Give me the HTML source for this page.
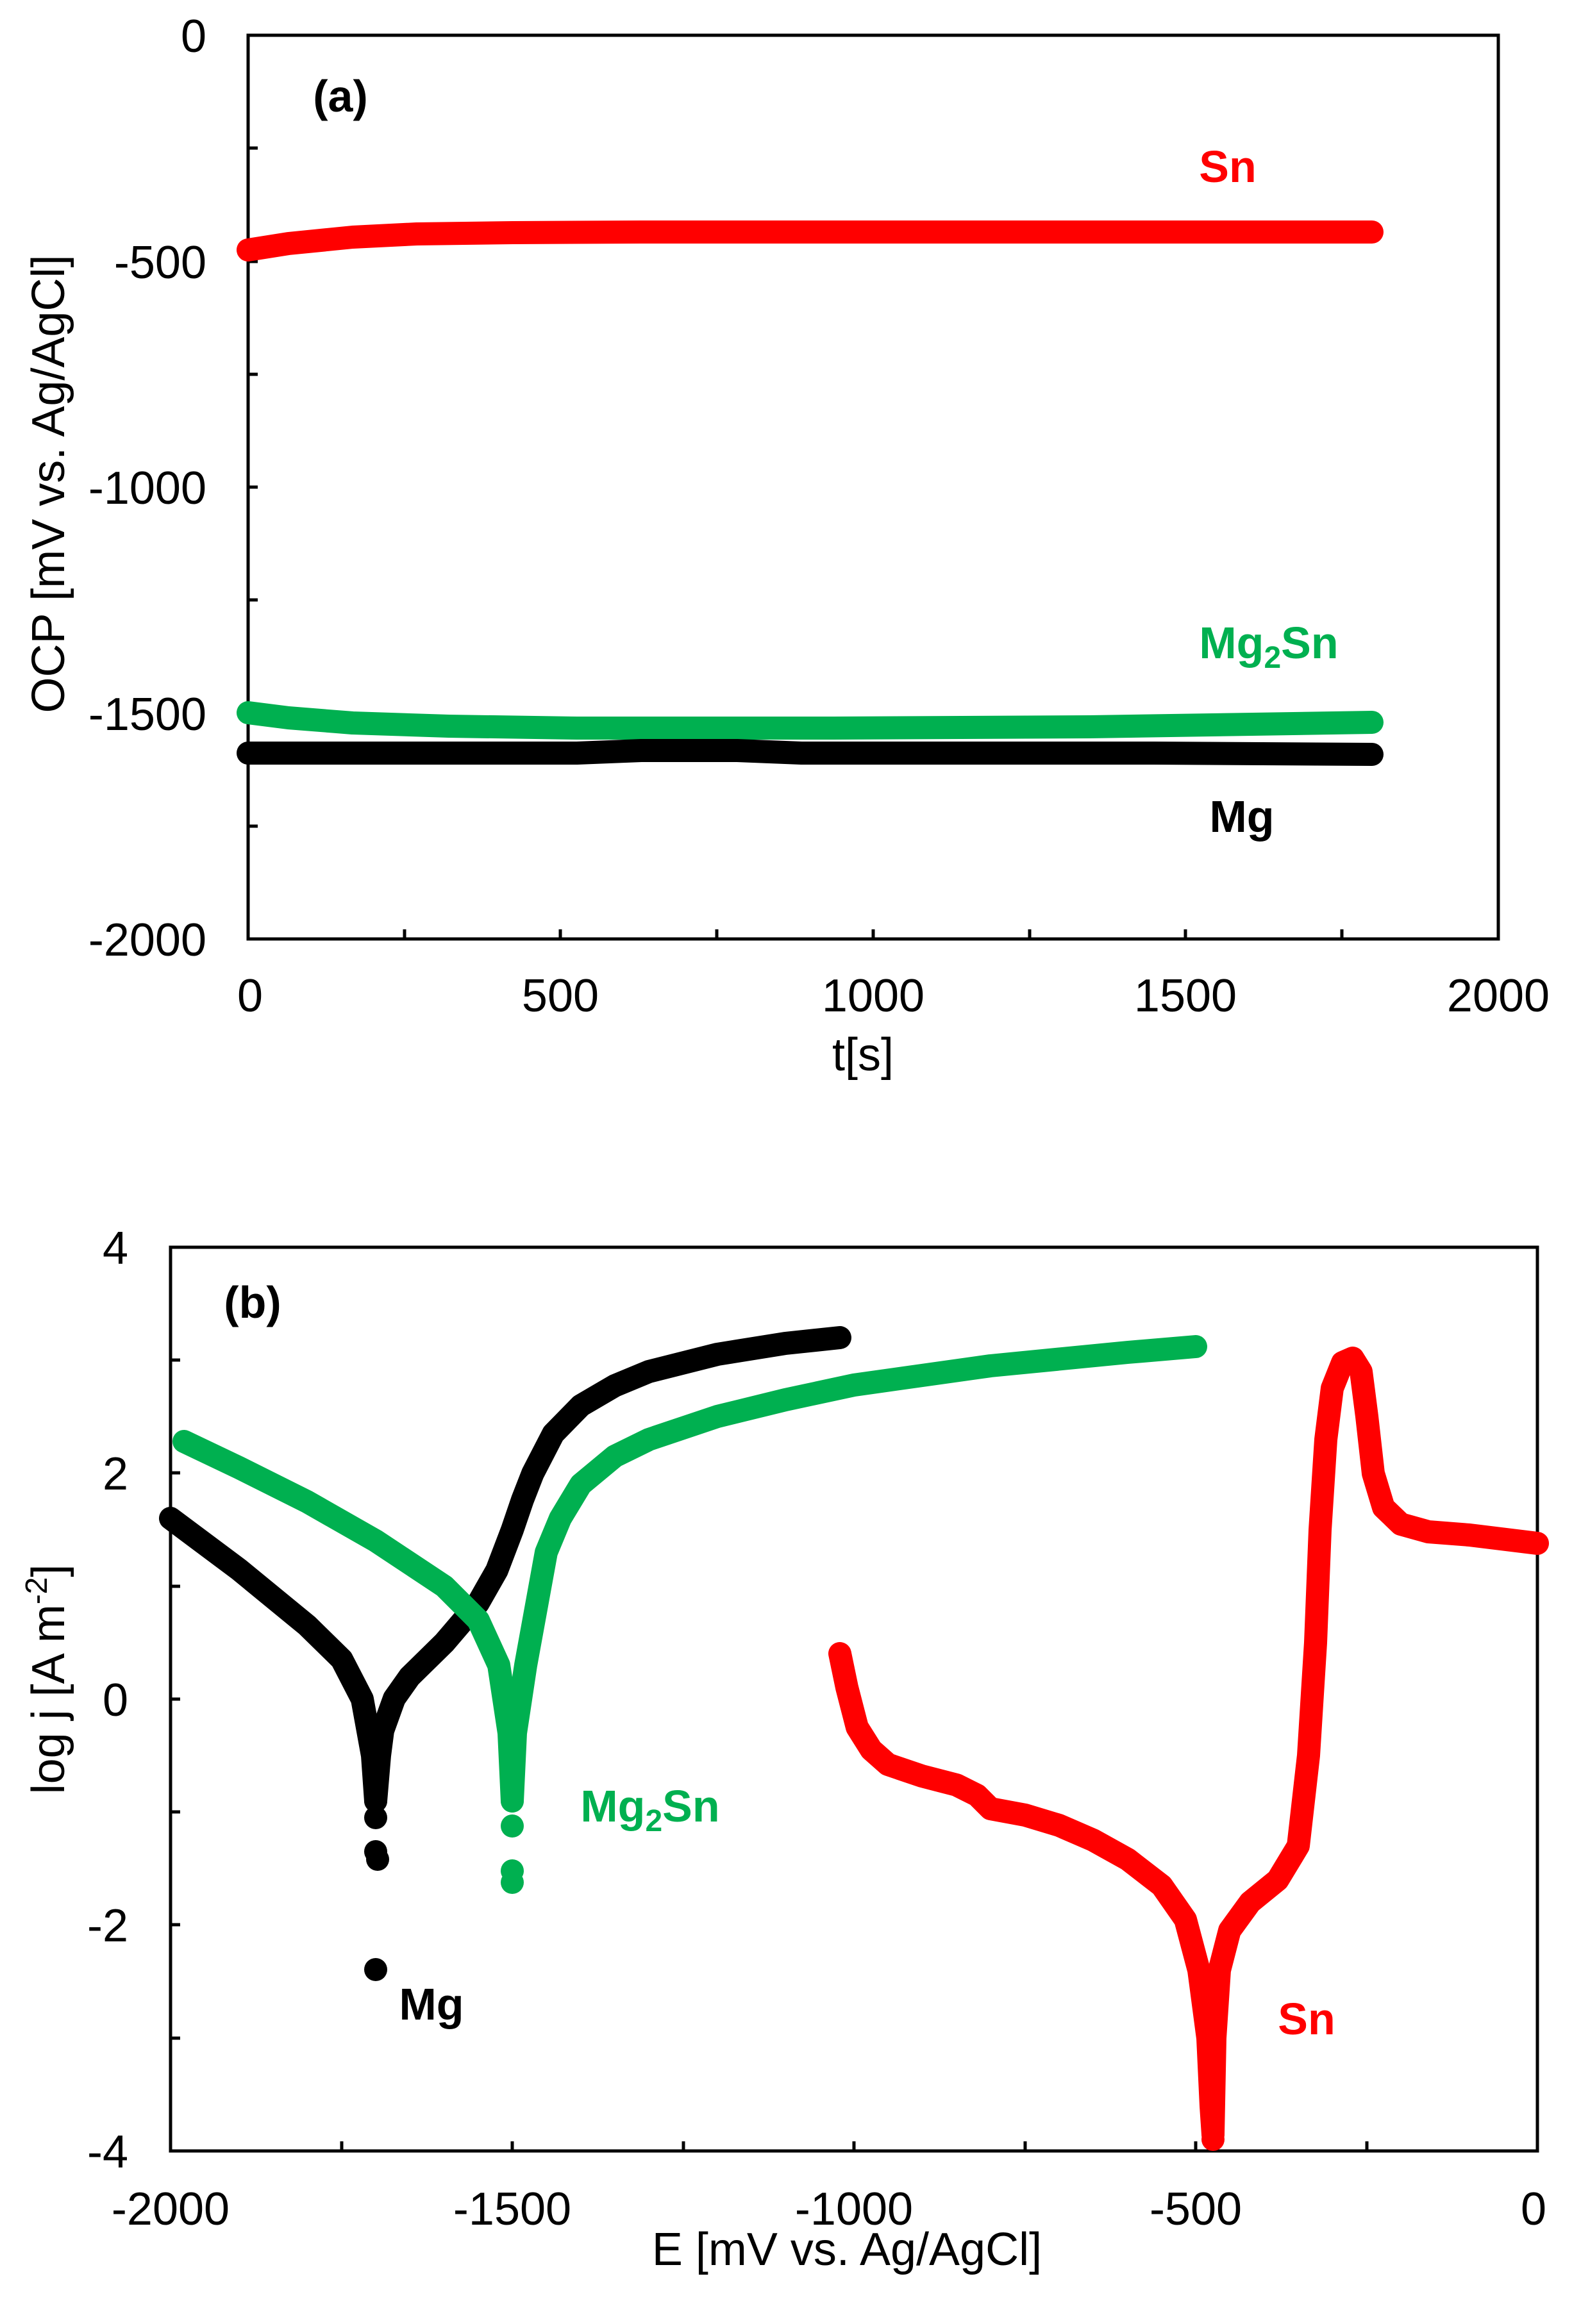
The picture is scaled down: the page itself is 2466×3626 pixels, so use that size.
<!DOCTYPE html>
<html><head><meta charset="utf-8"><style>html,body{margin:0;padding:0;background:#fff}svg{display:block}</style></head>
<body>
<svg width="2466" height="3626" viewBox="0 0 2466 3626" xmlns="http://www.w3.org/2000/svg" font-family="Liberation Sans, Arial, sans-serif">
<rect width="2466" height="3626" fill="#fff"/>
<g stroke="#000" stroke-width="5" fill="none">
<rect x="387" y="55" width="1950" height="1410"/>
<path d="M387,231 h15 M387,408 h15 M387,584 h15 M387,760 h15 M387,936 h15 M387,1113 h15 M387,1289 h15"/>
<path d="M631,1465 v-15 M874,1465 v-15 M1118,1465 v-15 M1362,1465 v-15 M1606,1465 v-15 M1849,1465 v-15 M2093,1465 v-15"/>
</g>
<g font-size="72" text-anchor="end" fill="#000">
<text x="322" y="81">0</text><text x="322" y="434">-500</text><text x="322" y="786">-1000</text><text x="322" y="1139">-1500</text><text x="322" y="1491">-2000</text>
</g>
<g font-size="72" text-anchor="middle" fill="#000">
<text x="390" y="1578">0</text><text x="874" y="1578">500</text><text x="1362" y="1578">1000</text><text x="1849" y="1578">1500</text><text x="2337" y="1578">2000</text>
<text x="1346" y="1670">t[s]</text>
<text transform="translate(100,755) rotate(-90)">OCP [mV vs. Ag/AgCl]</text>
</g>
<g fill="none" stroke-width="36" stroke-linecap="round" stroke-linejoin="round">
<polyline stroke="#ff0000" points="387,390 450,380 550,370 650,365 800,363 1000,362 2140,362"/>
<polyline stroke="#00b050" points="387,1112 450,1120 550,1128 700,1133 900,1136 1300,1136 1700,1134 2140,1127"/>
<polyline stroke="#000" points="387,1175 900,1175 1000,1171 1150,1171 1250,1175 1800,1175 2140,1177"/>
</g>
<g font-size="70" font-weight="bold" text-anchor="middle">
<text x="531" y="174" fill="#000">(a)</text>
<text x="1915" y="284" fill="#ff0000">Sn</text>
<text x="1979" y="1027" fill="#00b050">Mg<tspan font-size="48" dy="15">2</tspan><tspan dy="-15">Sn</tspan></text>
<text x="1937" y="1298" fill="#000">Mg</text>
</g>

<g stroke="#000" stroke-width="5" fill="none">
<rect x="266" y="1946" width="2132" height="1410"/>
<path d="M266,2122 h15 M266,2298 h15 M266,2475 h15 M266,2651 h15 M266,2827 h15 M266,3003 h15 M266,3180 h15"/>
<path d="M533,3356 v-15 M799,3356 v-15 M1066,3356 v-15 M1332,3356 v-15 M1599,3356 v-15 M1865,3356 v-15 M2132,3356 v-15"/>
</g>
<g font-size="72" text-anchor="end" fill="#000">
<text x="200" y="1972">4</text><text x="200" y="2324">2</text><text x="200" y="2677">0</text><text x="200" y="3029">-2</text><text x="200" y="3382">-4</text>
</g>
<g font-size="72" text-anchor="middle" fill="#000">
<text x="266" y="3471">-2000</text><text x="799" y="3471">-1500</text><text x="1332" y="3471">-1000</text><text x="1865" y="3471">-500</text><text x="2392" y="3471">0</text>
<text x="1321" y="3534">E [mV vs. Ag/AgCl]</text>
<text transform="translate(100,2620) rotate(-90)">log j [A m<tspan font-size="48" dy="-27">-2</tspan><tspan dy="27">]</tspan></text>
</g>
<g fill="none" stroke-width="36" stroke-linecap="round" stroke-linejoin="round">
<polyline stroke="#000" points="266,2369 373,2449 479,2536 533,2589 565,2651 581,2739 586,2810"/>
<polyline stroke="#000" points="586,2810 592,2739 597,2700 615,2650 639,2616 693,2563 746,2501 775,2450 799,2387 815,2340 831,2299 863,2237 906,2193 959,2162 1012,2140 1119,2113 1225,2096 1310,2087"/>
<polyline stroke="#00b050" points="287,2249 373,2290 479,2343 586,2404 693,2475 746,2528 778,2598 794,2704 799,2810"/>
<polyline stroke="#00b050" points="799,2810 804,2704 820,2598 836,2510 852,2422 874,2369 906,2316 959,2272 1012,2246 1119,2210 1225,2184 1332,2161 1545,2131 1759,2110 1865,2101"/>
<polyline stroke="#ff0000" points="1310,2580 1321,2633 1337,2695 1359,2730 1385,2753 1438,2771 1492,2785 1524,2801 1545,2822 1599,2832 1652,2848 1705,2871 1759,2901 1812,2942 1849,2995 1870,3074 1884,3180 1889,3286 1892,3330"/>
<polyline stroke="#ff0000" points="1892,3330 1895,3180 1902,3074 1918,3012 1950,2968 1993,2933 2025,2880 2041,2739 2052,2563 2059,2387 2068,2246 2078,2166 2094,2126 2110,2119 2123,2140 2132,2210 2142,2299 2158,2352 2185,2378 2228,2390 2292,2395 2398,2408"/>
</g>
<g stroke="none">
<circle cx="586" cy="2836" r="18" fill="#000"/><circle cx="586" cy="2889" r="18" fill="#000"/><circle cx="589" cy="2901" r="18" fill="#000"/><circle cx="586" cy="3073" r="18" fill="#000"/>
<circle cx="799" cy="2849" r="18" fill="#00b050"/><circle cx="799" cy="2919" r="18" fill="#00b050"/><circle cx="799" cy="2937" r="18" fill="#00b050"/>
<circle cx="1892" cy="3338" r="18" fill="#ff0000"/>
</g>
<g font-size="70" font-weight="bold" text-anchor="middle">
<text x="394" y="2056" fill="#000">(b)</text>
<text x="1014" y="2842" fill="#00b050">Mg<tspan font-size="48" dy="15">2</tspan><tspan dy="-15">Sn</tspan></text>
<text x="673" y="3151" fill="#000">Mg</text>
<text x="2038" y="3174" fill="#ff0000">Sn</text>
</g>
</svg>
</body></html>
